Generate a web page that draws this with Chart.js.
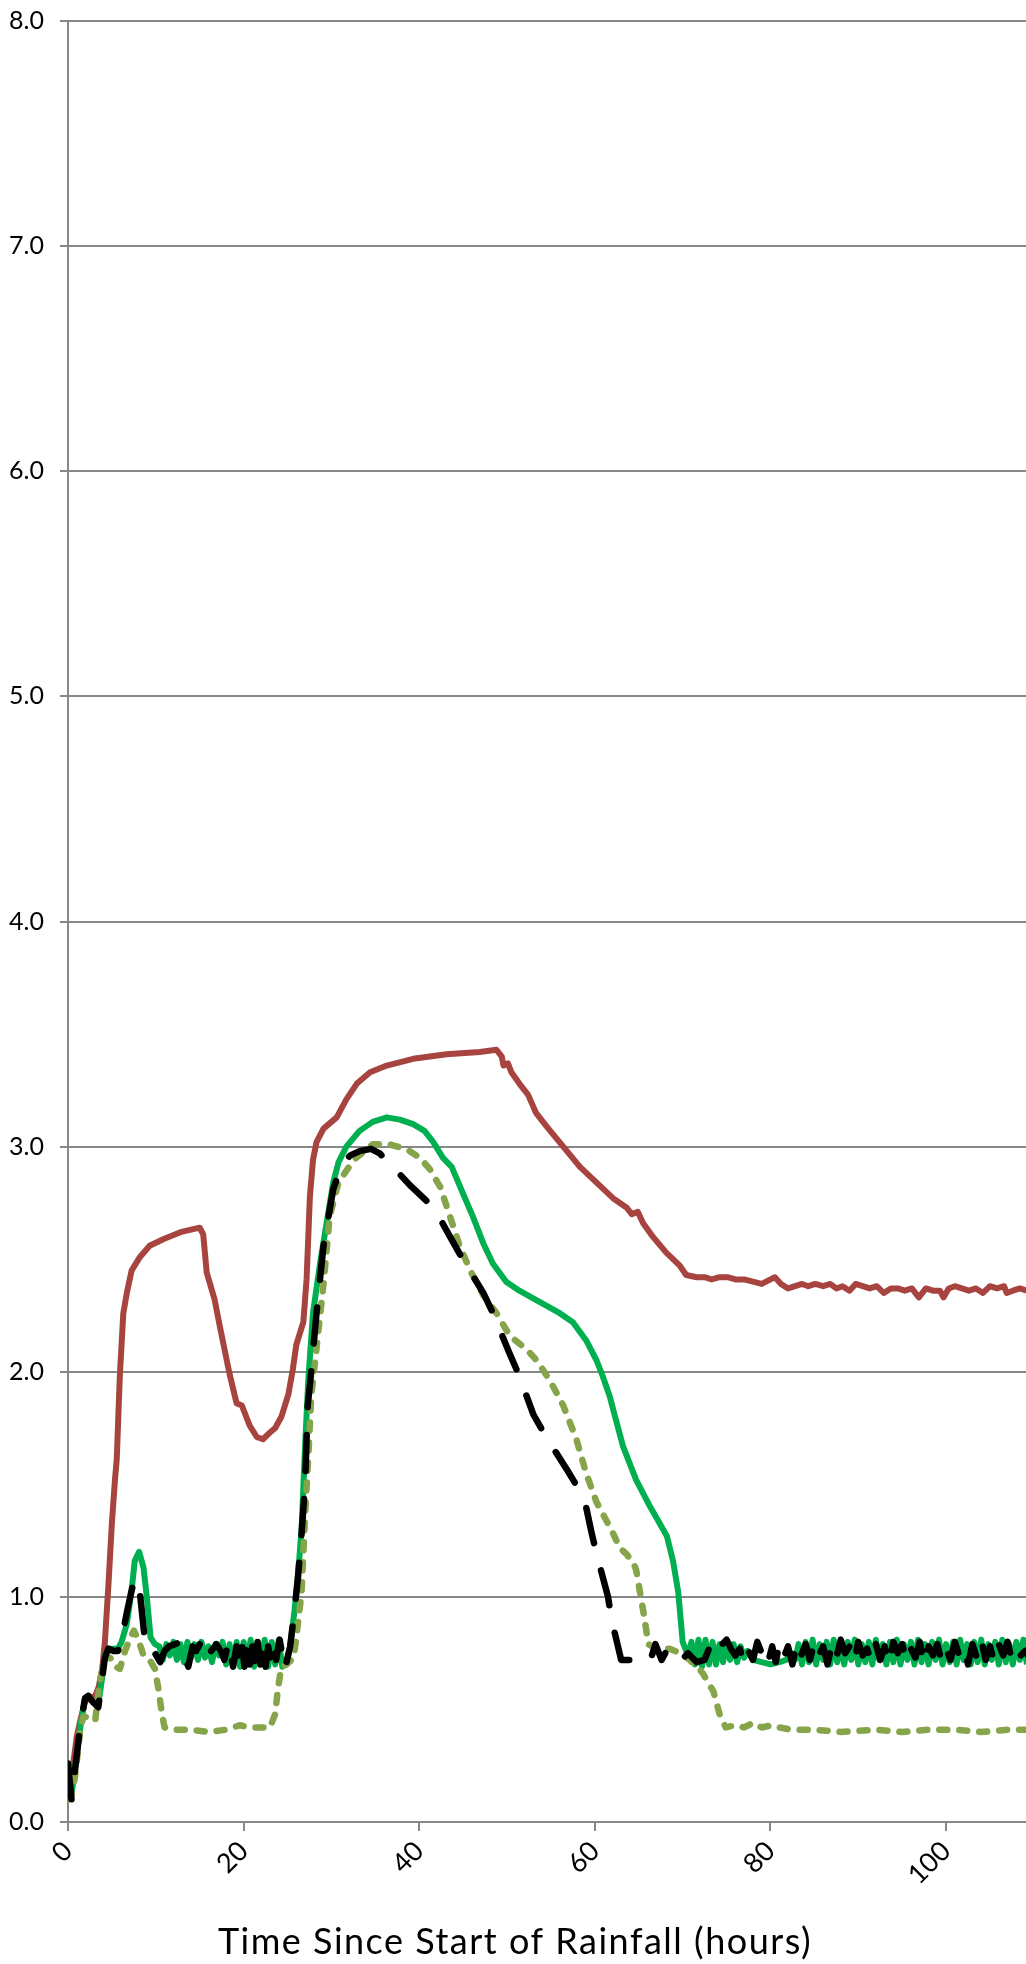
<!DOCTYPE html>
<html>
<head>
<meta charset="utf-8">
<script src="https://cdn.jsdelivr.net/npm/chart.js@4.4.1/dist/chart.umd.min.js"></script>
<style>
  html, body { margin: 0; padding: 0; background: #fff; overflow: hidden; }
  canvas { display: block; }
</style>
</head>
<body>
<canvas id="grafico" width="1026" height="1964"></canvas>
<script>
// [hours, value]
const solidRed = [
  [0, 0.12], [0.4, 0.2], [1.0, 0.38], [1.4, 0.45], [1.9, 0.53], [2.4, 0.56], [3.0, 0.55],
  [3.5, 0.6], [3.9, 0.68], [4.2, 0.8], [4.6, 1.05], [5.0, 1.33], [5.35, 1.52], [5.55, 1.61],
  [5.9, 1.98], [6.3, 2.26], [6.7, 2.35], [7.25, 2.45], [8.2, 2.51], [9.3, 2.56], [10.9, 2.59],
  [12.8, 2.62], [15.0, 2.64], [15.4, 2.61], [15.8, 2.44], [16.7, 2.32], [17.3, 2.2], [18.4, 1.99],
  [19.2, 1.86], [19.8, 1.85], [20.7, 1.76], [21.5, 1.71], [22.2, 1.7], [23.0, 1.73], [23.6, 1.75],
  [24.3, 1.8], [25.1, 1.9], [25.6, 2.01], [26.0, 2.12], [26.8, 2.22], [27.17, 2.41], [27.55, 2.78],
  [27.9, 2.94], [28.3, 3.02], [29.1, 3.08], [30.6, 3.13], [31.7, 3.21], [32.9, 3.28], [34.4, 3.33],
  [36.3, 3.36], [39.3, 3.39], [43.1, 3.41], [46.9, 3.42], [48.8, 3.43], [49.4, 3.4], [49.6, 3.36],
  [50.1, 3.37], [50.5, 3.33], [51.4, 3.28], [52.4, 3.23], [53.3, 3.15], [54.5, 3.09], [56.4, 3.0],
  [58.3, 2.91], [60.2, 2.84], [62.1, 2.77], [63.6, 2.73], [64.2, 2.7], [64.9, 2.71], [65.5, 2.66],
  [66.6, 2.6], [68.1, 2.53], [69.7, 2.47], [70.4, 2.43], [71.6, 2.42], [72.5, 2.42], [73.3, 2.41],
  [74.2, 2.42], [75.1, 2.42], [76.0, 2.41], [77.0, 2.41], [78.0, 2.4], [79.0, 2.39], [80.0, 2.41],
  [80.5, 2.42], [81.2, 2.39], [82.0, 2.37], [82.8, 2.38], [83.6, 2.39], [84.3, 2.38], [85.1, 2.39],
  [86.0, 2.38], [86.8, 2.39], [87.5, 2.37], [88.2, 2.38], [89.0, 2.36], [89.7, 2.39], [90.5, 2.38],
  [91.3, 2.37], [92.1, 2.38], [92.9, 2.35], [93.7, 2.37], [94.5, 2.37], [95.3, 2.36], [96.1, 2.37],
  [96.9, 2.33], [97.7, 2.37], [98.5, 2.36], [99.3, 2.36], [99.7, 2.33], [100.3, 2.37], [101.0, 2.38],
  [101.8, 2.37], [102.6, 2.36], [103.4, 2.37], [104.2, 2.35], [105.0, 2.38], [105.8, 2.37],
  [106.6, 2.38], [106.9, 2.35], [107.6, 2.36], [108.4, 2.37], [109.2, 2.36]
];

const solidGreen = [
  [0, 0.22], [0.4, 0.12], [0.8, 0.24], [1.4, 0.42], [1.9, 0.54], [2.3, 0.56], [2.9, 0.53],
  [3.45, 0.52], [3.85, 0.63], [4.2, 0.74], [4.6, 0.77], [5.2, 0.77], [5.7, 0.77], [6.1, 0.8],
  [6.7, 0.88], [7.25, 1.03], [7.6, 1.16], [8.1, 1.2], [8.6, 1.13], [9.0, 0.99], [9.4, 0.82],
  [9.9, 0.79], [10.4, 0.78], [10.8, 0.72], [11.2, 0.79], [11.6, 0.74], [12.0, 0.8], [12.4, 0.72],
  [12.8, 0.79], [13.2, 0.71], [13.6, 0.8], [14.0, 0.73], [14.4, 0.79], [14.8, 0.72], [15.2, 0.8],
  [15.6, 0.73], [16.0, 0.78], [16.4, 0.71], [16.8, 0.79], [17.2, 0.74], [17.6, 0.8], [18.0, 0.7],
  [18.4, 0.79], [18.8, 0.69], [19.2, 0.8], [19.6, 0.69], [20.0, 0.8], [20.4, 0.7], [20.8, 0.81],
  [21.2, 0.69], [21.6, 0.8], [22.0, 0.7], [22.4, 0.81], [22.8, 0.69], [23.2, 0.8], [23.6, 0.7],
  [24.0, 0.81], [24.4, 0.69], [24.9, 0.71], [25.3, 0.78], [25.8, 0.94], [26.2, 1.1], [26.6, 1.3],
  [27.0, 1.67], [27.36, 1.96], [27.9, 2.26], [28.7, 2.48], [30.2, 2.84], [30.8, 2.93], [31.7, 3.0],
  [33.2, 3.07], [34.7, 3.11], [36.3, 3.13], [37.8, 3.12], [39.3, 3.1], [40.6, 3.07], [41.6, 3.02],
  [42.7, 2.95], [43.7, 2.91], [45.0, 2.79], [46.1, 2.69], [47.3, 2.57], [48.4, 2.48], [49.9, 2.4],
  [51.4, 2.36], [53.7, 2.31], [56.0, 2.26], [57.5, 2.22], [59.0, 2.14], [60.2, 2.05], [60.9, 1.98],
  [61.7, 1.89], [62.1, 1.83], [63.2, 1.67], [64.7, 1.52], [66.3, 1.4], [68.2, 1.27], [68.9, 1.16],
  [69.5, 1.02], [70.0, 0.8], [70.6, 0.74], [71.0, 0.8], [71.4, 0.7], [71.8, 0.81], [72.2, 0.69],
  [72.6, 0.81], [73.0, 0.7], [73.4, 0.8], [73.8, 0.7], [74.2, 0.79], [74.6, 0.71], [75.0, 0.8],
  [75.4, 0.72], [75.8, 0.79], [76.2, 0.71], [76.6, 0.78], [77.0, 0.73], [77.4, 0.76], [78.0, 0.72],
  [79.0, 0.71], [80.0, 0.7], [81.0, 0.71], [81.8, 0.72], [82.4, 0.75], [82.8, 0.72], [83.2, 0.79],
  [83.6, 0.7], [84.0, 0.8], [84.4, 0.71], [84.8, 0.81], [85.2, 0.7], [85.6, 0.79], [86.0, 0.72],
  [86.4, 0.8], [86.8, 0.7], [87.2, 0.81], [87.6, 0.71], [88.0, 0.79], [88.4, 0.7], [88.8, 0.8],
  [89.2, 0.72], [89.6, 0.81], [90.0, 0.7], [90.4, 0.79], [90.8, 0.71], [91.2, 0.8], [91.6, 0.7],
  [92.0, 0.81], [92.4, 0.72], [92.8, 0.79], [93.2, 0.7], [93.6, 0.8], [94.0, 0.71], [94.4, 0.81],
  [94.8, 0.7], [95.2, 0.79], [95.6, 0.72], [96.0, 0.8], [96.4, 0.7], [96.8, 0.81], [97.2, 0.71],
  [97.6, 0.79], [98.0, 0.7], [98.4, 0.8], [98.8, 0.72], [99.2, 0.81], [99.6, 0.7], [100.0, 0.79],
  [100.4, 0.71], [100.8, 0.8], [101.2, 0.7], [101.6, 0.81], [102.0, 0.72], [102.4, 0.79],
  [102.8, 0.7], [103.2, 0.8], [103.6, 0.71], [104.0, 0.81], [104.4, 0.7], [104.8, 0.79],
  [105.2, 0.72], [105.6, 0.8], [106.0, 0.7], [106.4, 0.81], [106.8, 0.71], [107.2, 0.79],
  [107.6, 0.7], [108.0, 0.8], [108.4, 0.72], [108.8, 0.81], [109.2, 0.7], [109.6, 0.78]
];

const dashedOlive = [
  [0, 0.1], [0.4, 0.12], [0.8, 0.2], [1.4, 0.41], [1.75, 0.47], [2.5, 0.46], [3.1, 0.45],
  [3.6, 0.62], [4.2, 0.73], [4.8, 0.73], [5.4, 0.69], [5.9, 0.68], [6.5, 0.76], [7.1, 0.82],
  [7.5, 0.85], [8.0, 0.81], [8.6, 0.74], [9.3, 0.72], [9.9, 0.68], [10.3, 0.59], [10.7, 0.48],
  [11.0, 0.42], [12.0, 0.41], [14.0, 0.41], [16.0, 0.4], [18.0, 0.41], [19.6, 0.43], [20.5, 0.42],
  [22.0, 0.42], [23.0, 0.42], [23.6, 0.48], [23.9, 0.59], [24.3, 0.69], [24.9, 0.7], [25.7, 0.73],
  [26.0, 0.82], [26.6, 1.02], [27.0, 1.36], [27.4, 1.65], [27.7, 1.89], [29.1, 2.39], [29.8, 2.69],
  [30.8, 2.84], [32.5, 2.94], [34.7, 3.01], [36.6, 3.01], [38.5, 2.99], [40.1, 2.95], [41.2, 2.9],
  [42.4, 2.82], [43.5, 2.69], [44.6, 2.56], [45.8, 2.45], [47.3, 2.34], [48.8, 2.26], [50.3, 2.16],
  [52.2, 2.1], [53.4, 2.05], [54.9, 1.96], [56.4, 1.85], [57.9, 1.7], [59.0, 1.55], [60.2, 1.42],
  [61.3, 1.34], [62.1, 1.28], [62.8, 1.22], [63.6, 1.19], [64.4, 1.15], [64.7, 1.12], [65.1, 1.03],
  [65.5, 0.94], [66.1, 0.79], [67.0, 0.77], [68.5, 0.77], [69.7, 0.75], [70.8, 0.72], [71.9, 0.68],
  [72.3, 0.66], [73.5, 0.58], [74.2, 0.48], [74.9, 0.42], [76.0, 0.43], [77.0, 0.42], [78.0, 0.44],
  [79.0, 0.42], [80.2, 0.43], [81.0, 0.42], [82.4, 0.41], [85.0, 0.41], [88.0, 0.4], [92.0, 0.41],
  [95.0, 0.4], [98.0, 0.41], [101.0, 0.41], [104.0, 0.4], [107.0, 0.41], [109.5, 0.41]
];

const dashedBlack = [
  [0, 0.26], [0.4, 0.1], [0.8, 0.23], [1.37, 0.42], [1.94, 0.55], [2.3, 0.56], [2.9, 0.53],
  [3.45, 0.51], [3.83, 0.62], [4.2, 0.73], [4.6, 0.77], [5.2, 0.76], [5.7, 0.76], [6.1, 0.81],
  [6.7, 0.93], [7.25, 1.03], [7.6, 1.08], [8.1, 1.05], [8.4, 0.94], [8.8, 0.79], [9.1, 0.76],
  [9.9, 0.75], [10.5, 0.71], [11.0, 0.76], [11.5, 0.78], [12.2, 0.79], [12.8, 0.8], [13.2, 0.74],
  [13.7, 0.69], [14.2, 0.78], [14.6, 0.76], [15.0, 0.79], [15.4, 0.73], [15.8, 0.72], [16.3, 0.76],
  [16.9, 0.79], [17.4, 0.76], [17.8, 0.72], [18.3, 0.8], [18.8, 0.69], [19.2, 0.78], [19.5, 0.71],
  [19.8, 0.79], [20.1, 0.69], [20.4, 0.8], [20.7, 0.7], [21.0, 0.78], [21.3, 0.69], [21.6, 0.8],
  [21.9, 0.7], [22.2, 0.79], [22.5, 0.69], [22.8, 0.78], [23.1, 0.7], [23.4, 0.77], [23.7, 0.72],
  [24.1, 0.81], [24.7, 0.68], [25.3, 0.78], [25.8, 0.94], [26.2, 1.09], [26.6, 1.28], [27.0, 1.5],
  [27.3, 1.85], [27.6, 1.96], [28.3, 2.26], [29.1, 2.56], [30.2, 2.81], [31.0, 2.9], [32.1, 2.96],
  [33.2, 2.98], [34.5, 2.99], [35.5, 2.97], [37.0, 2.91], [38.9, 2.83], [40.8, 2.76], [41.8, 2.72],
  [43.5, 2.6], [44.8, 2.51], [47.3, 2.35], [48.4, 2.26], [50.3, 2.08], [51.3, 1.99], [53.0, 1.81],
  [54.3, 1.72], [56.9, 1.56], [58.3, 1.47], [59.0, 1.4], [59.6, 1.29], [60.2, 1.19], [61.5, 1.0],
  [61.9, 0.9], [63.0, 0.72], [64.5, 0.72], [65.0, 0.74], [65.5, 0.75], [66.0, 0.73], [66.5, 0.74],
  [66.9, 0.79], [67.6, 0.72], [68.3, 0.77], [69.1, 0.75], [69.9, 0.72], [70.6, 0.75], [71.6, 0.71],
  [72.5, 0.72], [73.0, 0.77], [73.5, 0.73], [74.0, 0.76], [74.5, 0.79], [75.0, 0.81], [75.5, 0.77],
  [76.0, 0.74], [76.5, 0.77], [77.0, 0.7], [77.5, 0.76], [78.0, 0.72], [78.5, 0.8], [79.0, 0.75],
  [79.4, 0.78], [79.8, 0.72], [80.2, 0.78], [80.6, 0.71], [81.0, 0.79], [81.5, 0.73], [82.0, 0.78],
  [82.5, 0.7], [83.0, 0.8], [83.5, 0.74], [84.0, 0.79], [84.5, 0.72], [85.0, 0.8], [85.5, 0.74],
  [86.0, 0.78], [86.5, 0.7], [87.0, 0.79], [87.5, 0.73], [88.0, 0.81], [88.5, 0.75], [89.0, 0.78],
  [89.5, 0.71], [90.0, 0.8], [90.5, 0.74], [91.0, 0.77], [91.5, 0.71], [92.0, 0.79], [92.5, 0.72],
  [93.0, 0.78], [93.5, 0.7], [94.0, 0.8], [94.5, 0.75], [95.0, 0.79], [95.5, 0.71], [96.0, 0.77],
  [96.5, 0.73], [97.0, 0.8], [97.5, 0.7], [98.0, 0.78], [98.5, 0.74], [99.0, 0.79], [99.5, 0.71],
  [100.0, 0.77], [100.5, 0.72], [101.0, 0.8], [101.5, 0.74], [102.0, 0.78], [102.5, 0.7],
  [103.0, 0.79], [103.5, 0.73], [104.0, 0.81], [104.5, 0.72], [105.0, 0.78], [105.5, 0.71],
  [106.0, 0.79], [106.5, 0.74], [107.0, 0.8], [107.5, 0.72], [108.0, 0.77], [108.5, 0.74],
  [109.0, 0.76], [109.5, 0.73]
];

const xTickHours = [0, 20, 40, 60, 80, 100];
const yTickValues = [0, 1, 2, 3, 4, 5, 6, 7, 8];
const xTitle = 'Time Since Start of Rainfall (hours)';

const toPoints = arr => arr.map(p => ({ x: p[0], y: p[1] }));

Chart.defaults.font.family = 'Lato';
Chart.defaults.color = '#000';

// axis title is drawn by hand: in the original it is not centred on the plot area
const tituloEje = {
  id: 'tituloEje',
  afterDraw(chart) {
    const ctx = chart.ctx;
    ctx.save();
    ctx.font = '36px Lato';
    if ('letterSpacing' in ctx) ctx.letterSpacing = '1.5px';
    ctx.fillStyle = '#000';
    ctx.textAlign = 'center';
    ctx.textBaseline = 'alphabetic';
    ctx.fillText(xTitle, 515, 1954);
    ctx.restore();
  }
};

const gris = '#878787';

new Chart(document.getElementById('grafico').getContext('2d'), {
  type: 'line',
  data: {
    datasets: [
      {
        data: toPoints(dashedBlack),
        borderColor: '#000000',
        borderWidth: 6.5,
        borderDash: [36, 28],
        borderCapStyle: 'round'
      },
      {
        data: toPoints(dashedOlive),
        borderColor: '#86A44A',
        borderWidth: 6.5,
        borderDash: [8, 12],
        borderCapStyle: 'round'
      },
      {
        data: toPoints(solidGreen),
        borderColor: '#00B050',
        borderWidth: 6
      },
      {
        data: toPoints(solidRed),
        borderColor: '#A8443F',
        borderWidth: 6
      }
    ]
  },
  options: {
    responsive: false,
    animation: false,
    devicePixelRatio: 1,
    layout: { padding: { top: 21, right: 0, left: 0, bottom: 0 } },
    elements: {
      point: { radius: 0 },
      line: { tension: 0, borderJoinStyle: 'round' }
    },
    plugins: {
      legend: { display: false },
      tooltip: { enabled: false }
    },
    scales: {
      x: {
        type: 'linear',
        min: 0,
        max: 109.1,
        afterFit: s => { s.height = 142; s.paddingLeft = 0; s.paddingRight = 0; },
        afterBuildTicks: s => { s.ticks = xTickHours.map(v => ({ value: v })); },
        ticks: {
          autoSkip: false,
          includeBounds: false,
          minRotation: 45,
          maxRotation: 45,
          padding: 4,
          font: { size: 27 },
          color: '#000'
        },
        grid: {
          drawOnChartArea: false,
          drawTicks: true,
          tickLength: 9,
          color: gris,
          lineWidth: 2
        },
        border: { display: true, color: gris, width: 2 }
      },
      y: {
        min: 0,
        max: 8,
        afterFit: s => { s.width = 68; s.paddingTop = 0; s.paddingBottom = 0; },
        afterBuildTicks: s => { s.ticks = yTickValues.map(v => ({ value: v })); },
        ticks: {
          padding: 16,
          font: { size: 25 },
          color: '#000',
          callback: v => v.toFixed(1)
        },
        grid: {
          color: gris,
          lineWidth: 2,
          drawTicks: true,
          tickLength: 8
        },
        border: { display: true, color: gris, width: 2 }
      }
    }
  },
  plugins: [tituloEje]
});
</script>
</body>
</html>
